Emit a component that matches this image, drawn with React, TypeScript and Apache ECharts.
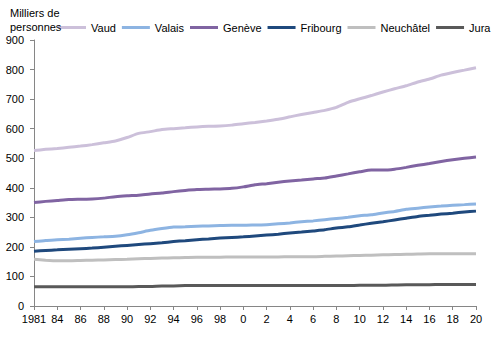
import React, { useEffect, useRef } from "react";
import * as echarts from "echarts";

const categories = ["1981", "83", "84", "85", "86", "87", "88", "89", "90", "91", "92", "93", "94", "95", "96", "97", "98", "99", "0", "1", "2", "3", "4", "5", "6", "7", "8", "9", "10", "11", "12", "13", "14", "15", "16", "17", "18", "19", "20"];

const vaud = [526, 530, 533, 537, 541, 546, 552, 558, 570, 584, 590, 597, 600, 603, 606, 608, 609, 612, 617, 621, 626, 632, 640, 648, 655, 662, 672, 689, 701, 712, 724, 735, 745, 758, 768, 781, 790, 798, 806];
const valais = [218, 222, 224, 226, 229, 232, 234, 236, 241, 248, 256, 262, 267, 268, 270, 271, 272, 273, 273, 274, 275, 278, 281, 285, 288, 292, 296, 300, 305, 309, 315, 320, 327, 331, 335, 338, 341, 343, 345];
const geneve = [350, 354, 357, 360, 361, 362, 365, 370, 373, 375, 379, 382, 387, 391, 394, 395, 396, 398, 403, 410, 414, 419, 423, 426, 430, 433, 440, 447, 454, 460, 460, 463, 469, 476, 482, 489, 495, 500, 504];
const fribourg = [185, 188, 190, 192, 194, 196, 199, 202, 205, 208, 211, 214, 218, 221, 224, 227, 230, 232, 234, 237, 240, 243, 247, 250, 254, 258, 264, 268, 274, 280, 285, 291, 297, 303, 307, 311, 314, 318, 321];
const neuchatel = [158, 155, 153, 153, 154, 155, 156, 157, 158, 160, 161, 162, 163, 164, 165, 165, 165, 166, 166, 166, 166, 166, 167, 167, 167, 168, 169, 170, 171, 172, 173, 174, 175, 176, 177, 177, 177, 177, 177];
const jura = [65, 65, 65, 65, 65, 65, 65, 65, 65, 66, 66, 68, 68, 69, 69, 69, 69, 69, 69, 69, 69, 69, 69, 69, 69, 69, 69, 69, 70, 70, 70, 71, 72, 72, 72, 73, 73, 73, 73];

const seriesNames = ["Vaud", "Valais", "Genève", "Fribourg", "Neuchâtel", "Jura"];
const seriesColors = ["#ccc0da", "#8db4e2", "#8064a2", "#1f497d", "#bfbfbf", "#595959"];
const seriesData = [vaud, valais, geneve, fribourg, neuchatel, jura];

const yTicks = { min: 0, max: 900, interval: 100 };

export default function App() {
  const ref = useRef<HTMLDivElement>(null);
  useEffect(() => {
    if (!ref.current) return;
    const chart = echarts.init(ref.current, undefined, { renderer: "svg" });
    const font = "'Liberation Sans', Arial, sans-serif";
    chart.setOption({
      animation: false,
      textStyle: { fontFamily: font },
      title: {
        text: "Milliers de\npersonnes",
        left: 5,
        top: 1,
        textStyle: { fontSize: 11, fontWeight: "normal", color: "#000", lineHeight: 14, fontFamily: font },
      },
      legend: {
        left: 58,
        top: 22,
        width: 434,
        padding: 0,
        itemWidth: 28,
        itemHeight: 3,
        itemGap: 6,
        icon: "rect",
        textStyle: { fontSize: 11, color: "#000", fontFamily: font },
        data: seriesNames,
      },
      grid: { left: 34, right: 16, top: 40, bottom: 35, containLabel: false },
      xAxis: {
        type: "category",
        data: categories,
        boundaryGap: false,
        axisLine: { lineStyle: { color: "#868686" } },
        axisTick: { interval: 1, length: 4, lineStyle: { color: "#868686" } },
        axisLabel: { interval: 1, color: "#000", fontSize: 11, margin: 7, fontFamily: font },
        splitLine: { show: false },
      },
      yAxis: {
        type: "value",
        min: yTicks.min,
        max: yTicks.max,
        interval: yTicks.interval,
        axisLine: { show: true, lineStyle: { color: "#868686" } },
        axisTick: { show: true, length: 4, lineStyle: { color: "#868686" } },
        axisLabel: { color: "#000", fontSize: 11, margin: 10, fontFamily: font },
        splitLine: { show: false },
      },
      series: seriesData.map((d, i) => ({
        name: seriesNames[i],
        type: "line",
        data: d,
        showSymbol: false,
        symbol: "none",
        smooth: 0.2,
        lineStyle: { width: 3, color: seriesColors[i] },
        itemStyle: { color: seriesColors[i] },
      })),
    });
    return () => chart.dispose();
  }, []);
  return <div ref={ref} style={{ width: 492, height: 341, position: "absolute", left: 0, top: 0 }} />;
}
